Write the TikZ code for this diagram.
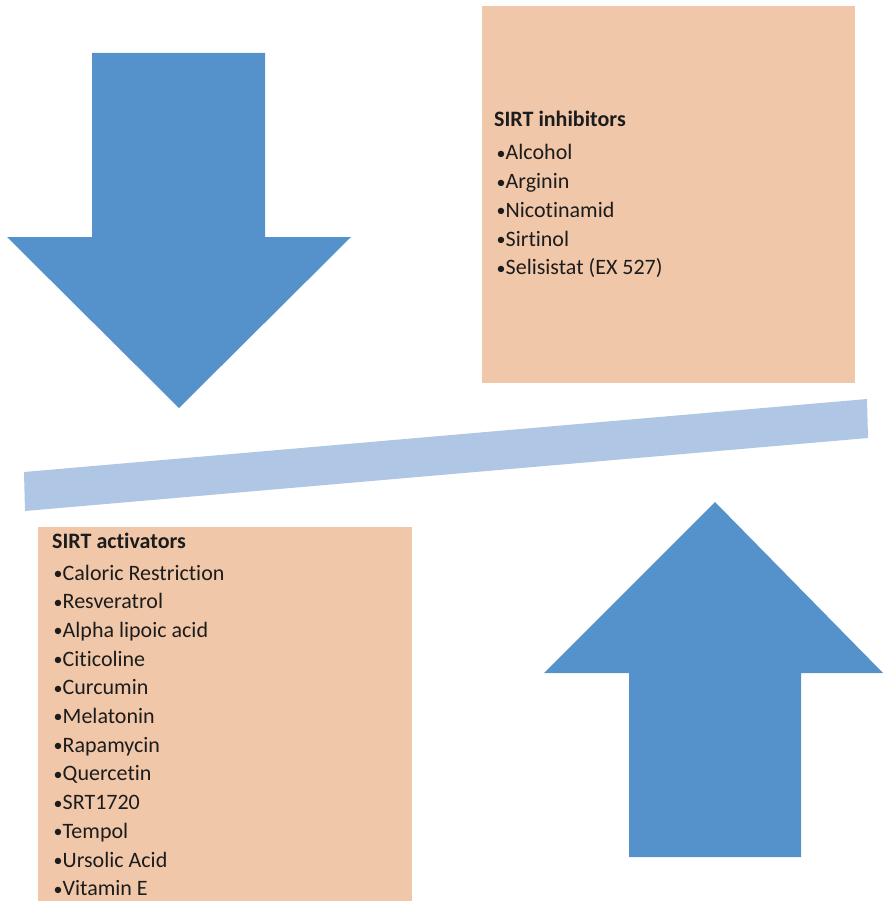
\documentclass[tikz,border=0pt]{standalone}
\usepackage{fontspec}
\setmainfont{Carlito}[Ligatures=NoCommon]
\definecolor{arrowblue}{HTML}{5592CB}
\definecolor{barblue}{HTML}{AFC6E4}
\definecolor{peach}{HTML}{F1C7A9}
\definecolor{ink}{HTML}{1C1C1C}
\newcommand{\bul}{\makebox[9pt][l]{\raisebox{0.6pt}{\fontsize{18}{20}\selectfont•}}}
\tikzset{
  bigarrow/.style={fill=arrowblue},
  balance/.style={fill=barblue},
  listbox/.style={fill=peach},
  title/.style={anchor=base west, inner sep=0pt, font=\fontsize{22}{26}\selectfont\bfseries, text=ink},
  item/.style={anchor=base west, inner sep=0pt, font=\fontsize{22}{26}\selectfont, text=ink}
}
\begin{document}
\begin{tikzpicture}[x=1pt,y=-1pt]
\useasboundingbox (0,0) rectangle (883,901);
% boxes
\fill[listbox] (482,6) rectangle (855,383);
\fill[listbox] (38,527) rectangle (412,901);
% arrows
\fill[bigarrow] (92,53) -- (265,53) -- (265,237) -- (351,237) -- (179,408) -- (7,237) -- (92,237) -- cycle;
\fill[bigarrow] (715,502) -- (883,673) -- (801,673) -- (801,857) -- (629,857) -- (629,673) -- (544,673) -- cycle;
% balance bar
\fill[balance] (24,472) -- (867,399) -- (868,438) -- (25,511) -- cycle;
% inhibitors
\node[title] (ti) at (494,127) {SIRT inhibitors};
\foreach \t [count=\i from 0] in {Alcohol,Arginin,Nicotinamid,Sirtinol,Selisistat (EX 527)}
  \node[item] (inh\i) at (496.5,160+28.7*\i) {\bul\t};
% activators
\node[title] (ta) at (52,548) {SIRT activators};
\foreach \t [count=\i from 0] in {Caloric Restriction,Resveratrol,Alpha lipoic acid,Citicoline,Curcumin,Melatonin,Rapamycin,Quercetin,SRT1720,Tempol,Ursolic Acid,Vitamin E}
  \node[item] (act\i) at (53.5,580+28.7*\i) {\bul\t};
\end{tikzpicture}
\end{document}
